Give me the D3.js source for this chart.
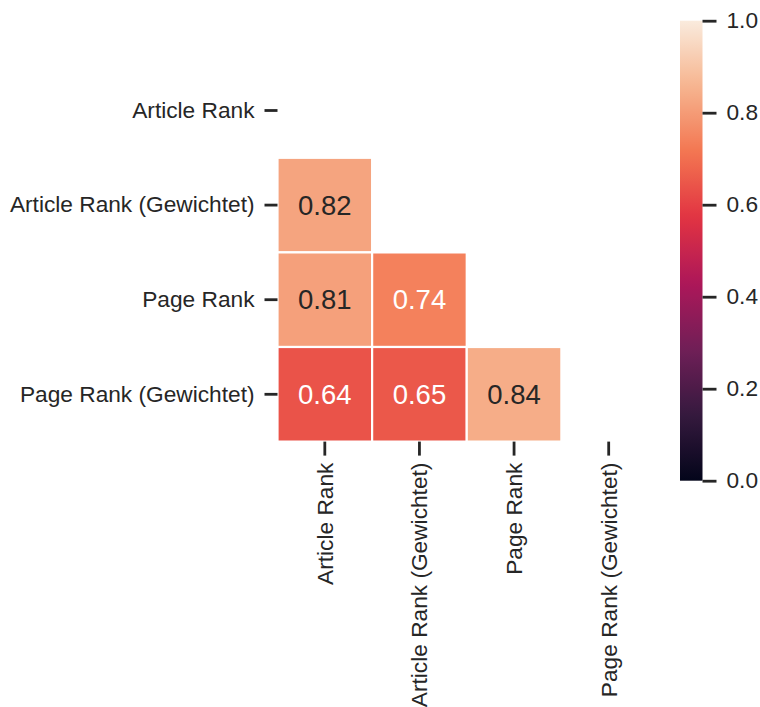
<!DOCTYPE html>
<html>
<head>
<meta charset="utf-8">
<script src="https://cdn.jsdelivr.net/npm/d3@7"></script>
<style>
  html, body { margin: 0; padding: 0; background: #fff; }
  svg text { font-family: "Liberation Sans", Arial, sans-serif; fill: #262626; }
</style>
</head>
<body>
<svg id="chart" width="760" height="707"></svg>
<script>
// Rank measures compared in the correlation matrix
const labels = ["Article Rank", "Article Rank (Gewichtet)", "Page Rank", "Page Rank (Gewichtet)"];
// Lower-triangle correlations (row, column, value); upper triangle and diagonal are masked
const rowIdx = [1, 2, 2, 3, 3, 3];
const colIdx = [0, 0, 1, 0, 1, 2];
const corrValues = [0.82, 0.81, 0.74, 0.64, 0.65, 0.84];
const colorbarTicks = [0.0, 0.2, 0.4, 0.6, 0.8, 1.0];

// "rocket" colormap anchors
const rocketStops = ["#03051a", "#35193e", "#701f57", "#ad1759", "#e13342", "#f37651", "#f6b48f", "#faebdd"];
const rocketPos = [0, 1/7, 2/7, 3/7, 4/7, 5/7, 6/7, 1];
const rocket = d3.scaleLinear().domain(rocketPos).range(rocketStops).interpolate(d3.interpolateRgb).clamp(true);
const color = v => rocket(v);

const svg = d3.select("#chart");
const ink = "#262626";
const tickFont = "22.7px";

const x = d3.scaleBand().domain(labels).range([277.5, 656]);
const y = d3.scaleBand().domain(labels).range([63.2, 441.6]);

const cells = corrValues.map((v, i) => ({ r: labels[rowIdx[i]], c: labels[colIdx[i]], v }));

// Heatmap cells
svg.append("g").selectAll("rect").data(cells).join("rect")
  .attr("x", d => x(d.c))
  .attr("y", d => y(d.r))
  .attr("width", x.bandwidth())
  .attr("height", y.bandwidth())
  .attr("fill", d => color(d.v))
  .attr("stroke", "#fff")
  .attr("stroke-width", 2.2);

// Annotations: dark text on light cells, white on darker ones
function lum(c) {
  const rgb = d3.rgb(c);
  const f = u => { u /= 255; return u <= 0.03928 ? u / 12.92 : Math.pow((u + 0.055) / 1.055, 2.4); };
  return 0.2126 * f(rgb.r) + 0.7152 * f(rgb.g) + 0.0722 * f(rgb.b);
}
svg.append("g").selectAll("text").data(cells).join("text")
  .attr("x", d => x(d.c) + x.bandwidth() / 2)
  .attr("y", d => y(d.r) + y.bandwidth() / 2)
  .attr("text-anchor", "middle")
  .attr("dominant-baseline", "central")
  .style("font-size", "27.5px")
  .style("fill", d => lum(color(d.v)) > 0.408 ? ink : "#ffffff")
  .text(d => d.v.toFixed(2));

// Y axis
const yAxis = svg.append("g").attr("transform", "translate(277.5,0)")
  .call(d3.axisLeft(y).tickSize(13).tickPadding(10));
yAxis.select(".domain").remove();
yAxis.selectAll(".tick line").attr("stroke", ink).attr("stroke-width", 2.8);
yAxis.selectAll(".tick text").style("font-size", tickFont).attr("fill", ink);

// X axis with rotated labels
const xAxis = svg.append("g").attr("transform", "translate(0,441.6)")
  .call(d3.axisBottom(x).tickSize(14).tickPadding(10));
xAxis.select(".domain").remove();
xAxis.selectAll(".tick line").attr("stroke", ink).attr("stroke-width", 2.8);
xAxis.selectAll(".tick text")
  .style("font-size", tickFont)
  .attr("fill", ink)
  .attr("transform", "rotate(-90)")
  .attr("x", -21)
  .attr("y", 0)
  .attr("dy", "0.35em")
  .attr("text-anchor", "end");

// Colorbar
const cbX = 680, cbW = 22.5, cbTop = 20.7, cbBottom = 480.7;
const cbScale = d3.scaleLinear().domain([0, 1]).range([cbBottom, cbTop]);
const defs = svg.append("defs");
const grad = defs.append("linearGradient").attr("id", "cbgrad")
  .attr("x1", 0).attr("y1", 1).attr("x2", 0).attr("y2", 0);
d3.range(0, 1.0001, 0.02).forEach(t => {
  grad.append("stop").attr("offset", t).attr("stop-color", color(t));
});
svg.append("rect")
  .attr("x", cbX).attr("y", cbTop)
  .attr("width", cbW).attr("height", cbBottom - cbTop)
  .attr("fill", "url(#cbgrad)");
const cbAxis = svg.append("g").attr("transform", `translate(${cbX + cbW},0)`)
  .call(d3.axisRight(cbScale).tickValues(colorbarTicks).tickFormat(d3.format(".1f")).tickSize(14).tickPadding(10));
cbAxis.select(".domain").remove();
cbAxis.selectAll(".tick line").attr("stroke", ink).attr("stroke-width", 2.8);
cbAxis.selectAll(".tick text").style("font-size", tickFont).attr("fill", ink);
</script>
</body>
</html>
